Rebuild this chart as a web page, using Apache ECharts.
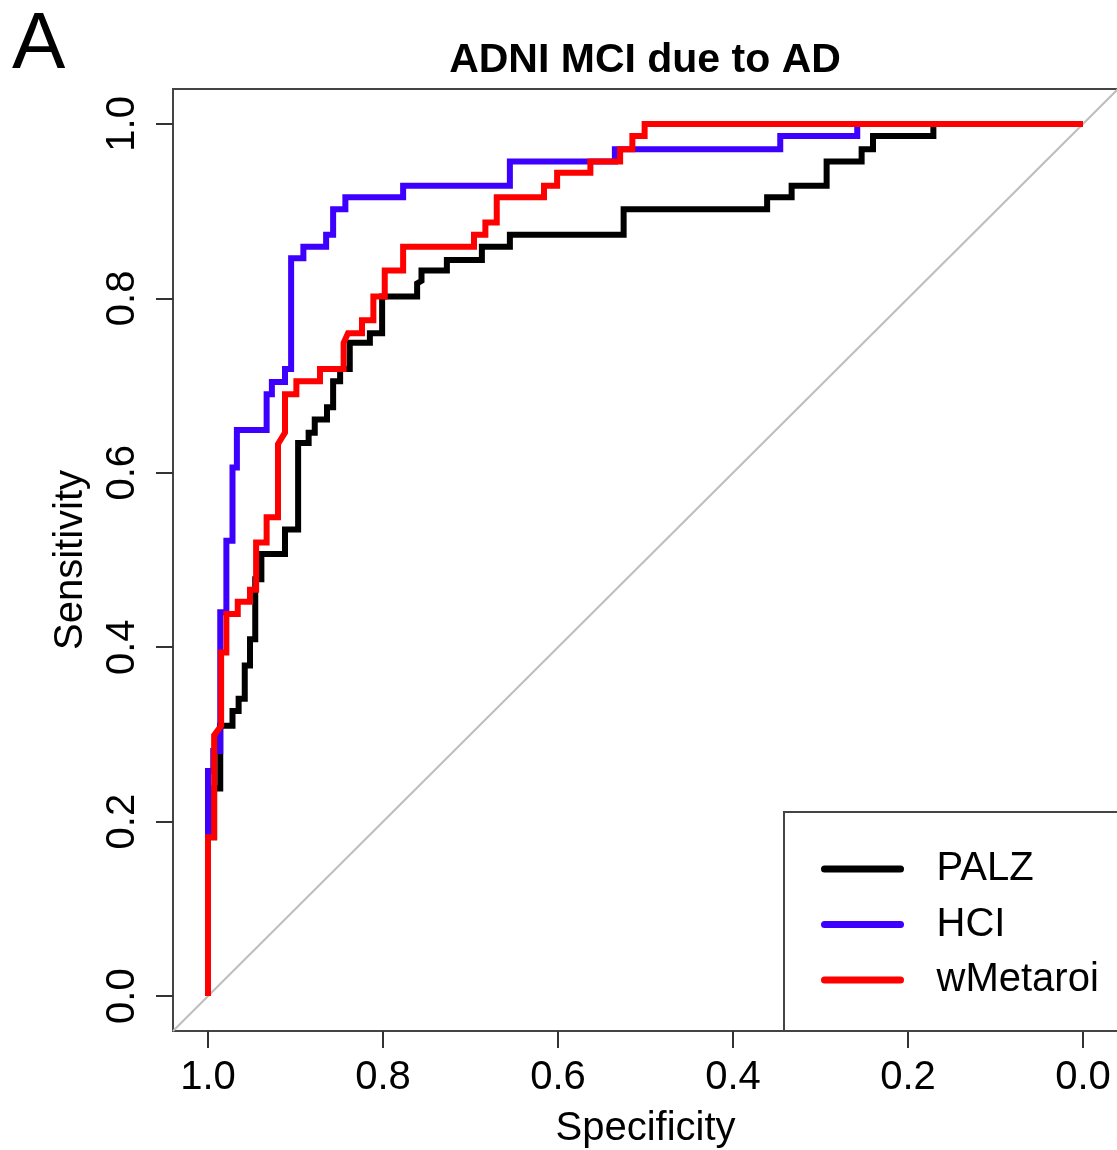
<!DOCTYPE html>
<html>
<head>
<meta charset="utf-8">
<script src="https://cdn.jsdelivr.net/npm/echarts@6/dist/echarts.min.js"></script>
<style>
html, body { margin: 0; padding: 0; background: #fff; }
#chart { width: 1117px; height: 1150px; }
</style>
</head>
<body>
<div id="chart"></div>
<script>
const tickValues = [0, 0.2, 0.4, 0.6, 0.8, 1.0];
const seriesNames = ['PALZ', 'HCI', 'wMetaroi'];
const seriesColors = ['#000000', '#3d00ff', '#ff0000'];

// PALZ
const palzSpec = [1.000, 1.000, 0.993, 0.993, 0.986, 0.986, 0.972, 0.972, 0.965, 0.965, 0.958, 0.958, 0.952, 0.952, 0.946, 0.946, 0.939, 0.939, 0.912, 0.912, 0.897, 0.897, 0.885, 0.885, 0.878, 0.878, 0.864, 0.864, 0.857, 0.857, 0.849, 0.849, 0.838, 0.838, 0.815, 0.815, 0.801, 0.801, 0.761, 0.761, 0.756, 0.756, 0.727, 0.727, 0.687, 0.687, 0.655, 0.655, 0.525, 0.525, 0.361, 0.361, 0.333, 0.333, 0.293, 0.293, 0.253, 0.253, 0.240, 0.240, 0.171, 0.171, 0.000];
const palzSens = [0.000, 0.182, 0.182, 0.238, 0.238, 0.310, 0.310, 0.327, 0.327, 0.341, 0.341, 0.379, 0.379, 0.409, 0.409, 0.478, 0.478, 0.507, 0.507, 0.535, 0.535, 0.634, 0.634, 0.646, 0.646, 0.661, 0.661, 0.675, 0.675, 0.705, 0.705, 0.719, 0.719, 0.749, 0.749, 0.760, 0.760, 0.802, 0.802, 0.817, 0.820, 0.832, 0.832, 0.844, 0.844, 0.859, 0.859, 0.873, 0.873, 0.902, 0.902, 0.916, 0.916, 0.929, 0.929, 0.957, 0.957, 0.971, 0.971, 0.986, 0.986, 1.000, 1.000];

// HCI
const hciSpec = [1.000, 1.000, 0.994, 0.994, 0.986, 0.986, 0.979, 0.979, 0.972, 0.972, 0.967, 0.967, 0.933, 0.933, 0.927, 0.927, 0.912, 0.912, 0.905, 0.905, 0.891, 0.891, 0.865, 0.865, 0.857, 0.857, 0.843, 0.843, 0.777, 0.777, 0.655, 0.655, 0.535, 0.535, 0.346, 0.346, 0.258, 0.258, 0.000];
const hciSens = [0.000, 0.258, 0.258, 0.281, 0.281, 0.440, 0.440, 0.522, 0.522, 0.606, 0.606, 0.649, 0.649, 0.690, 0.690, 0.704, 0.704, 0.719, 0.719, 0.846, 0.846, 0.859, 0.859, 0.873, 0.873, 0.902, 0.902, 0.916, 0.916, 0.929, 0.929, 0.957, 0.957, 0.971, 0.971, 0.986, 0.986, 1.000, 1.000];

// wMetaroi
const wmetSpec = [1.000, 1.000, 0.993, 0.993, 0.985, 0.985, 0.979, 0.979, 0.966, 0.966, 0.952, 0.952, 0.945, 0.945, 0.933, 0.933, 0.920, 0.920, 0.912, 0.912, 0.899, 0.899, 0.872, 0.872, 0.845, 0.845, 0.840, 0.824, 0.824, 0.811, 0.811, 0.798, 0.798, 0.777, 0.777, 0.696, 0.696, 0.683, 0.683, 0.670, 0.670, 0.616, 0.616, 0.601, 0.601, 0.563, 0.563, 0.529, 0.529, 0.515, 0.515, 0.501, 0.501, 0.000];
const wmetSens = [0.000, 0.182, 0.182, 0.299, 0.310, 0.394, 0.394, 0.438, 0.438, 0.452, 0.452, 0.466, 0.466, 0.520, 0.520, 0.549, 0.549, 0.633, 0.646, 0.690, 0.690, 0.705, 0.705, 0.719, 0.719, 0.749, 0.760, 0.760, 0.775, 0.775, 0.802, 0.802, 0.832, 0.832, 0.859, 0.859, 0.873, 0.873, 0.887, 0.887, 0.916, 0.916, 0.929, 0.929, 0.944, 0.944, 0.957, 0.957, 0.971, 0.971, 0.986, 0.986, 1.000, 1.000];

// chance line, corner to corner of the plot region
const diagSpec = [1.04, -0.04];
const diagSens = [-0.04, 1.04];

const zip = (xs, ys) => xs.map((x, i) => [x, ys[i]]);
const font = 'Liberation Sans, Arial, Helvetica, sans-serif';

const chart = echarts.init(document.getElementById('chart'));

const rocSeries = [
  [palzSpec, palzSens],
  [hciSpec, hciSens],
  [wmetSpec, wmetSens]
].map((d, i) => ({
  name: seriesNames[i],
  type: 'line',
  data: zip(d[0], d[1]),
  symbol: 'none',
  color: seriesColors[i],
  lineStyle: { color: seriesColors[i], width: 6, join: 'miter' },
  z: 3 + i
}));

chart.setOption({
  animation: false,
  backgroundColor: '#fff',
  title: [
    {
      text: 'A',
      left: 12,
      top: 6,
      padding: 0,
      textStyle: { fontFamily: font, fontSize: 80, fontWeight: 'normal', color: '#000', lineHeight: 80 }
    },
    {
      text: 'ADNI MCI due to AD',
      left: 645,
      textAlign: 'center',
      top: 40,
      padding: 0,
      textStyle: { fontFamily: font, fontSize: 41, fontWeight: 'bold', color: '#000', lineHeight: 41 }
    }
  ],
  grid: {
    left: 173,
    top: 89,
    width: 945,
    height: 942,
    outerBoundsMode: 'none',
    show: true,
    borderColor: '#444',
    borderWidth: 2,
    backgroundColor: 'transparent'
  },
  legend: {
    data: seriesNames,
    orient: 'vertical',
    left: 784,
    top: 812,
    padding: [37, 60, 31, 37],
    itemWidth: 76,
    itemHeight: 40,
    itemGap: 15.5,
    backgroundColor: '#fff',
    borderColor: '#444',
    borderWidth: 2,
    borderRadius: 0,
    itemStyle: { opacity: 0 },
    lineStyle: { width: 7, cap: 'round' },
    textStyle: { fontFamily: font, fontSize: 40, color: '#000', lineHeight: 40, padding: [0, 0, 0, 31] }
  },
  xAxis: {
    type: 'value',
    inverse: true,
    min: -0.04,
    max: 1.04,
    name: 'Specificity',
    nameLocation: 'middle',
    nameGap: 78,
    nameTextStyle: { fontFamily: font, fontSize: 40, color: '#000' },
    splitLine: { show: false },
    axisLine: { show: false, onZero: false },
    axisTick: {
      show: true,
      customValues: tickValues,
      length: 17,
      lineStyle: { color: '#333', width: 2 }
    },
    axisLabel: {
      customValues: tickValues,
      formatter: v => v.toFixed(1),
      fontFamily: font,
      fontSize: 40,
      color: '#000',
      margin: 27
    }
  },
  yAxis: {
    type: 'value',
    min: -0.04,
    max: 1.04,
    name: 'Sensitivity',
    nameLocation: 'middle',
    nameGap: 82,
    nameTextStyle: { fontFamily: font, fontSize: 40, color: '#000' },
    splitLine: { show: false },
    axisLine: { show: false, onZero: false },
    axisTick: {
      show: true,
      customValues: tickValues,
      length: 17,
      lineStyle: { color: '#333', width: 2 }
    },
    axisLabel: {
      customValues: tickValues,
      formatter: v => v.toFixed(1),
      rotate: 90,
      fontFamily: font,
      fontSize: 40,
      color: '#000',
      margin: 30
    }
  },
  series: [
    {
      name: 'chance',
      type: 'line',
      data: zip(diagSpec, diagSens),
      symbol: 'none',
      silent: true,
      lineStyle: { color: '#bebebe', width: 2 },
      z: 2
    }
  ].concat(rocSeries)
});
</script>
</body>
</html>
